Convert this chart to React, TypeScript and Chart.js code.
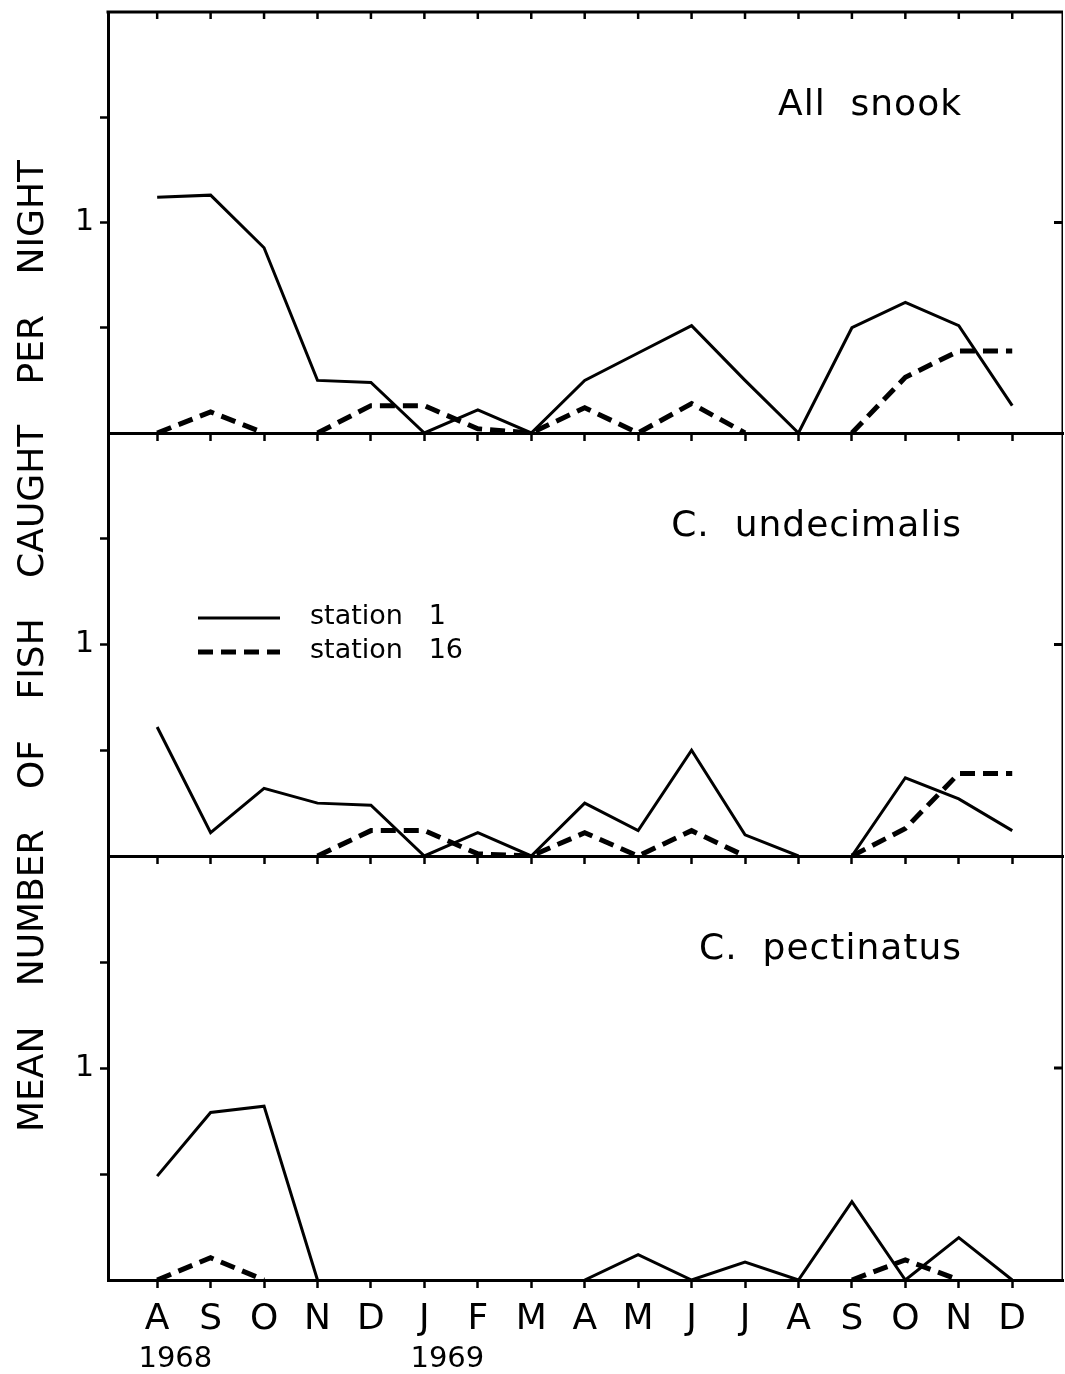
import React, { useEffect, useRef } from "react";
import { Chart, registerables } from "chart.js";

Chart.register(...registerables);

// ---------- data ----------
const months = ["A", "S", "O", "N", "D", "J", "F", "M", "A", "M", "J", "J", "A", "S", "O", "N", "D"];
const yearLabels = ["1968", "1969"];
const yearPositions = [0.34, 5.43];
const panelTitles = ["All  snook", "C.  undecimalis", "C.  pectinatus"];
const seriesLabels = ["station   1", "station   16"];
const axisTitleWords = ["MEAN", "NUMBER", "OF", "FISH", "CAUGHT", "PER", "NIGHT"];

const allSnookStation1 = [1.12, 1.13, 0.88, 0.25, 0.24, 0, 0.11, 0, 0.25, 0.38, 0.51, 0.25, 0, 0.5, 0.62, 0.51, 0.13];
const allSnookStation16 = [0, 0.1, 0, 0, 0.13, 0.13, 0.02, 0, 0.12, 0, 0.14, 0, 0, 0, 0.265, 0.39, 0.39];
const undecimalisStation1 = [0.61, 0.11, 0.32, 0.25, 0.24, 0, 0.11, 0, 0.25, 0.12, 0.5, 0.1, 0, 0, 0.37, 0.27, 0.12];
const undecimalisStation16 = [0, 0, 0, 0, 0.12, 0.12, 0.01, 0, 0.11, 0, 0.12, 0, 0, 0, 0.13, 0.39, 0.39];
const pectinatusStation1 = [0.49, 0.79, 0.82, 0, 0, 0, 0, 0, 0, 0.12, 0, 0.085, 0, 0.37, 0, 0.2, 0];
const pectinatusStation16 = [0, 0.105, 0, 0, 0, 0, 0, 0, 0, 0, 0, 0, 0, 0, 0.095, 0, 0];

const panelSeries = [
  [allSnookStation1, allSnookStation16],
  [undecimalisStation1, undecimalisStation16],
  [pectinatusStation1, pectinatusStation16],
];

// ---------- layout ----------
const CANVAS_W = 1065;
const CANVAS_H = 1374;
const PANEL_TOPS = [12, 433, 856];
const PANEL_BOTTOMS = [433, 856, 1280];
const PLOT_LEFT = 108;
const PLOT_RIGHT = 1063;
const X_MIN = -0.92;
const X_MAX = 16.95;
const FONT = '"DejaVu Sans", sans-serif';
const DASH = [15, 8];

const hideFlatZero = (ctx: any) =>
  ctx.p0.parsed.y === 0 && ctx.p1.parsed.y === 0 ? "rgba(0,0,0,0)" : undefined;

function makeFramePlugin(idx: number) {
  return {
    id: "frame" + idx,
    afterDraw(chart: any) {
      const { ctx, chartArea: a, scales } = chart;
      const xs = scales.x;
      const ys = scales.y;
      ctx.save();
      ctx.strokeStyle = "#000";
      ctx.fillStyle = "#000";
      ctx.lineCap = "butt";

      // right border (thin)
      ctx.lineWidth = 1.5;
      ctx.beginPath();
      ctx.moveTo(a.right - 0.75, a.top);
      ctx.lineTo(a.right - 0.75, a.bottom);
      ctx.stroke();

      // right inward tick at value 1
      const y1 = ys.getPixelForValue(1);
      ctx.lineWidth = 3;
      ctx.beginPath();
      ctx.moveTo(a.right - 9, y1);
      ctx.lineTo(a.right, y1);
      ctx.stroke();

      if (idx === 0) {
        ctx.lineWidth = 3;
        ctx.beginPath();
        ctx.moveTo(a.left - 1.5, a.top);
        ctx.lineTo(a.right, a.top);
        ctx.stroke();
        ctx.lineWidth = 2.5;
        months.forEach((_, i) => {
          const x = xs.getPixelForValue(i);
          ctx.beginPath();
          ctx.moveTo(x, a.top);
          ctx.lineTo(x, a.top + 7);
          ctx.stroke();
        });
      }

      // panel title
      ctx.save();
      ctx.font = `36px ${FONT}`;
      try { (ctx as any).letterSpacing = "1px"; } catch (e) {}
      ctx.textAlign = "right";
      ctx.textBaseline = "alphabetic";
      ctx.fillText(panelTitles[idx], a.right - 101, a.top + 103);
      ctx.restore();

      // legend (middle panel)
      if (idx === 1) {
        const ds = chart.data.datasets;
        const lx0 = a.left + 90;
        const lx1 = a.left + 172;
        const rows = [a.top + 185, a.top + 219];
        ctx.font = `27px ${FONT}`;
        ctx.textAlign = "left";
        ctx.textBaseline = "middle";
        ds.forEach((d: any, i: number) => {
          ctx.save();
          ctx.lineWidth = d.borderWidth;
          ctx.setLineDash(d.borderDash || []);
          ctx.beginPath();
          ctx.moveTo(lx0, rows[i]);
          ctx.lineTo(lx1, rows[i]);
          ctx.stroke();
          ctx.restore();
          ctx.fillText(d.label, a.left + 202, rows[i] - 1);
        });
      }

      // years and axis title (bottom panel)
      if (idx === 2) {
        ctx.font = `29px ${FONT}`;
        ctx.textAlign = "center";
        ctx.textBaseline = "alphabetic";
        yearLabels.forEach((t, i) => {
          ctx.fillText(t, xs.getPixelForValue(yearPositions[i]), 1367);
        });

        ctx.font = `36px ${FONT}`;
        ctx.textAlign = "left";
        const spanStart = 1132;
        const spanEnd = 160;
        const span = spanStart - spanEnd;
        const widths = axisTitleWords.map((w) => ctx.measureText(w).width);
        const total = widths.reduce((s, w) => s + w, 0);
        const gap = (span - total) / (axisTitleWords.length - 1);
        ctx.save();
        ctx.translate(43, spanStart);
        ctx.rotate(-Math.PI / 2);
        let pos = 0;
        axisTitleWords.forEach((w, i) => {
          ctx.fillText(w, pos, 0);
          pos += widths[i] + gap;
        });
        ctx.restore();
      }
      ctx.restore();
    },
  };
}

function makeConfig(idx: number): any {
  const [s1, s16] = panelSeries[idx];
  const isBottom = idx === 2;
  const xAxisH = isBottom ? 94 : 20;
  return {
    type: "line",
    data: {
      datasets: [
        {
          label: seriesLabels[0],
          data: s1.map((v, i) => ({ x: i, y: v })),
          borderColor: "#000",
          borderWidth: 3,
          pointRadius: 0,
          fill: false,
          tension: 0,
          segment: { borderColor: hideFlatZero },
        },
        {
          label: seriesLabels[1],
          data: s16.map((v, i) => ({ x: i, y: v })),
          borderColor: "#000",
          borderWidth: 5,
          borderDash: DASH,
          pointRadius: 0,
          fill: false,
          tension: 0,
          segment: { borderColor: hideFlatZero },
        },
      ],
    },
    options: {
      animation: false,
      responsive: false,
      maintainAspectRatio: false,
      events: [],
      layout: {
        padding: {
          top: PANEL_TOPS[idx],
          bottom: CANVAS_H - PANEL_BOTTOMS[idx] - xAxisH,
          left: 0,
          right: CANVAS_W - PLOT_RIGHT,
        },
      },
      plugins: {
        legend: { display: false },
        tooltip: { enabled: false },
        title: { display: false },
      },
      scales: {
        x: {
          type: "linear",
          min: X_MIN,
          max: X_MAX,
          afterBuildTicks: (s: any) => {
            s.ticks = months.map((_, i) => ({ value: i }));
          },
          afterFit: (s: any) => {
            s.height = xAxisH;
            s.paddingLeft = 0;
            s.paddingRight = 0;
          },
          ticks: {
            display: isBottom,
            autoSkip: false,
            maxRotation: 0,
            color: "#000",
            padding: 10,
            font: { family: FONT, size: 36 },
            callback: (_v: any, i: number) => months[i],
          },
          grid: {
            drawOnChartArea: false,
            drawTicks: true,
            tickLength: 8,
            tickWidth: 2.5,
            color: "#000",
          },
          border: { display: true, width: 3, color: "#000" },
        },
        y: {
          type: "linear",
          min: 0,
          max: 2,
          afterFit: (s: any) => {
            s.width = PLOT_LEFT;
            s.paddingTop = 0;
            s.paddingBottom = 0;
          },
          ticks: {
            stepSize: 0.5,
            color: "#000",
            padding: 6,
            font: { family: FONT, size: 30 },
            callback: (v: any) => (v === 1 ? "1" : ""),
          },
          grid: {
            drawOnChartArea: false,
            drawTicks: true,
            tickLength: 8,
            tickWidth: 2.5,
            color: "#000",
            tickColor: (ctx: any) =>
              ctx.tick && (ctx.tick.value === 0 || ctx.tick.value === 2) ? "rgba(0,0,0,0)" : "#000",
          },
          border: { display: true, width: 3, color: "#000" },
        },
      },
    },
    plugins: [makeFramePlugin(idx)],
  };
}

function Panel({ idx }: { idx: number }) {
  const ref = useRef<HTMLCanvasElement | null>(null);
  useEffect(() => {
    if (!ref.current) return;
    const chart = new Chart(ref.current, makeConfig(idx));
    return () => chart.destroy();
  }, [idx]);
  return (
    <canvas
      ref={ref}
      width={CANVAS_W}
      height={CANVAS_H}
      style={{ position: "absolute", left: 0, top: 0, width: CANVAS_W, height: CANVAS_H }}
    />
  );
}

export default function App() {
  return (
    <div
      style={{
        position: "absolute",
        left: 0,
        top: 0,
        width: CANVAS_W,
        height: CANVAS_H,
        background: "#fff",
        overflow: "hidden",
      }}
    >
      {[0, 1, 2].map((i) => (
        <Panel key={i} idx={i} />
      ))}
    </div>
  );
}
